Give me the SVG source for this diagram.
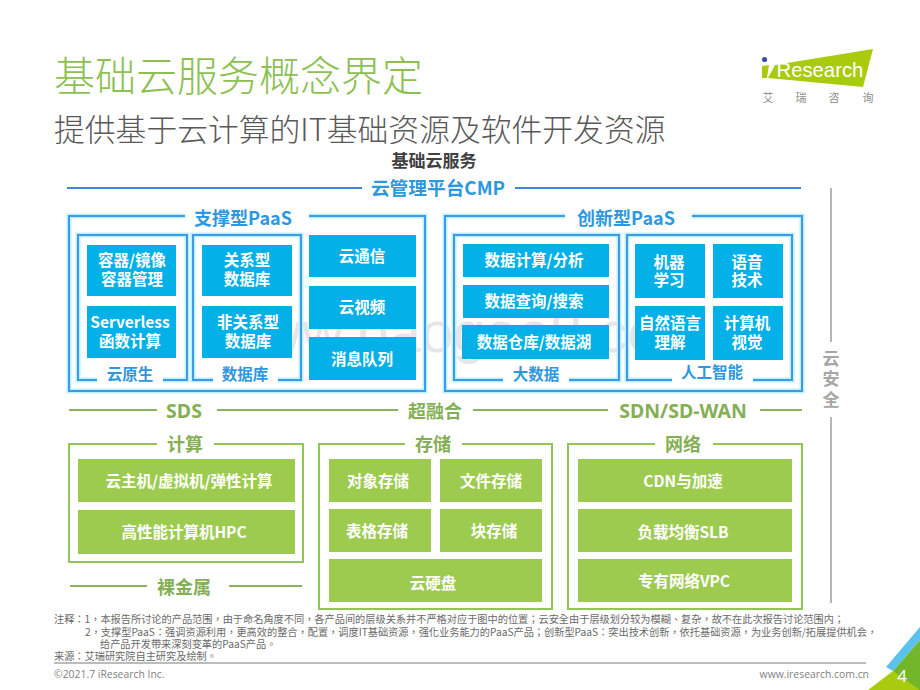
<svg xmlns="http://www.w3.org/2000/svg" width="920" height="690" viewBox="0 0 920 690">
<defs>
<style>
text{font-family:"Noto Sans CJK SC","Noto Sans",sans-serif}
.b{fill:#03B0E8}
.g{fill:#9DCB50}
.w{fill:#fff;font-size:15.5px;font-weight:700;text-anchor:middle}
.fb{fill:none;stroke:#3C9BE8;stroke-width:2}
.glow{fill:none;stroke:#BDF0FF;stroke-width:5}
.fg{fill:none;stroke:#92C558;stroke-width:2}
.lb{font-size:18px;font-weight:700;fill:#2D98E0;text-anchor:middle}
.lb2{font-size:15.5px;font-weight:700;fill:#2D98E0;text-anchor:middle}
.lg{font-size:18px;font-weight:700;fill:#85AF55;text-anchor:middle}
.cl{stroke:#4384D8;stroke-width:2;fill:none}
.gl{stroke:#8DB35F;stroke-width:2;fill:none}
.gy{stroke:#B5B5B5;stroke-width:2;fill:none}
.n{font-size:10.2px;fill:#6A6A6A;font-family:"Noto Sans CJK TC","Noto Sans",sans-serif}
.f{font-size:10.4px;fill:#7F7F7F;font-family:"Open Sans",sans-serif}
</style>
</defs>
<rect width="920" height="690" fill="#fff"/>
<text x="54" y="91" font-size="41" fill="#8CC152" style="font-weight:300">基础云服务概念界定</text>
<text x="54" y="141" font-size="30.8" fill="#595959" style="font-weight:300">提供基于云计算的IT基础资源及软件开发资源</text>
<text x="434" y="167" font-size="17" font-weight="700" fill="#404040" text-anchor="middle">基础云服务</text>
<text x="708" y="352" font-size="58" fill="#E8E4E8" text-anchor="end" style='font-family:"Liberation Sans",sans-serif'>www.baogao8.com</text>
<g id="logo">
<polygon points="775,65 873,49 863,87 768,78" fill="#A9CB0E"/>
<polygon points="762,66 769,65 767,78 762,78" fill="#A9CB0E"/>
<circle cx="764.500" cy="59.500" r="2.600" fill="#3C4C9E"/>
<text x="776.500" y="77" font-size="20.300" fill="#fff" style='font-family:"Liberation Sans",sans-serif'>Research</text>
<g font-size="11" fill="#8C8C8C" text-anchor="middle"><text x="768" y="102">艾</text><text x="801" y="102">瑞</text><text x="834" y="102">咨</text><text x="868" y="102">询</text></g>
</g>
<g id="connectors">
<path class="cl" d="M67 188H362M515 188H801"/>
<path class="gl" d="M69 410H157M217 410H398M473 410H608M760 410H802"/>
<path class="gl" d="M70 586H147M229 586H302"/>
<path class="gy" d="M831 188V342M831 417V603"/>
</g>
<text x="438" y="195" class="lb" style="font-size:18.700px">云管理平台CMP</text>
<g id="security"><g font-size="17" font-weight="700" fill="#A6A6A6" text-anchor="middle"><text x="831" y="365">云</text><text x="831" y="385">安</text><text x="831" y="406">全</text></g></g>
<g id="support-paas">
<path class="glow" d="M185 216H69V391H425V216H309"/><path class="fb" d="M185 216H69V391H425V216H309"/>
<text x="243" y="225" class="lb">支撑型PaaS</text>
</g>
<g id="cloud-native">
<path class="glow" d="M97 380H78V235H187V380H163"/><path class="fb" d="M97 380H78V235H187V380H163"/>
<text x="130" y="380" class="lb2">云原生</text>
<rect class="b" x="87" y="245" width="89" height="51"/><text class="w" x="132" y="266">容器/镜像</text><text class="w" x="132" y="285">容器管理</text>
<rect class="b" x="87" y="306" width="89" height="52"/><text class="w" x="130" y="328">Serverless</text><text class="w" x="130" y="347">函数计算</text>
</g>
<g id="database">
<path class="glow" d="M213 380H193V235H301V380H278"/><path class="fb" d="M213 380H193V235H301V380H278"/>
<text x="245" y="380" class="lb2">数据库</text>
<rect class="b" x="202" y="245" width="90" height="51"/><text class="w" x="247" y="266">关系型</text><text class="w" x="247" y="285">数据库</text>
<rect class="b" x="202" y="306" width="90" height="52"/><text class="w" x="248" y="328">非关系型</text><text class="w" x="248" y="347">数据库</text>
</g>
<g id="comm">
<rect class="b" x="309" y="235" width="107" height="42"/><text class="w" x="362" y="262">云通信</text>
<rect class="b" x="309" y="286" width="107" height="43"/><text class="w" x="362" y="313">云视频</text>
<rect class="b" x="309" y="337" width="107" height="43"/><text class="w" x="362" y="365">消息队列</text>
</g>
<g id="innovation-paas">
<path class="glow" d="M565 216H445V391H802V216H692"/><path class="fb" d="M565 216H445V391H802V216H692"/>
<text x="626" y="225" class="lb">创新型PaaS</text>
</g>
<g id="bigdata">
<path class="glow" d="M503 380H454V235H619V380H569"/><path class="fb" d="M503 380H454V235H619V380H569"/>
<text x="536" y="380" class="lb2">大数据</text>
<rect class="b" x="463" y="244" width="146" height="33"/><text class="w" x="534" y="266">数据计算/分析</text>
<rect class="b" x="463" y="285" width="146" height="33"/><text class="w" x="534" y="307">数据查询/搜索</text>
<rect class="b" x="462" y="325" width="147" height="34"/><text class="w" x="534" y="348">数据仓库/数据湖</text>
</g>
<g id="ai">
<path class="glow" d="M672 380H627V235H792V380H753"/><path class="fb" d="M672 380H627V235H792V380H753"/>
<text x="712" y="378" class="lb2">人工智能</text>
<rect class="b" x="635" y="244" width="70" height="54"/><text class="w" x="669" y="268">机器</text><text class="w" x="669" y="286">学习</text>
<rect class="b" x="713" y="244" width="70" height="54"/><text class="w" x="747" y="268">语音</text><text class="w" x="747" y="286">技术</text>
<rect class="b" x="635" y="306" width="70" height="54"/><text class="w" x="670" y="329">自然语言</text><text class="w" x="670" y="348">理解</text>
<rect class="b" x="713" y="306" width="70" height="54"/><text class="w" x="747" y="329">计算机</text><text class="w" x="747" y="348">视觉</text>
</g>
<g id="layers">
<text x="184" y="418" class="lg" style='font-family:"Noto Sans",sans-serif;font-size:19.500px'>SDS</text>
<text x="435" y="418" class="lg">超融合</text>
<text x="683" y="418" class="lg" style='font-family:"Noto Sans",sans-serif;font-size:19.500px'>SDN/SD-WAN</text>
<text x="184" y="594" class="lg">裸金属</text>
</g>
<g id="compute">
<path class="fg" d="M157 444H69V562H303V444H214"/>
<text x="185" y="451" class="lg">计算</text>
<rect class="g" x="78" y="459" width="217" height="43"/><text class="w" x="189" y="487">云主机/虚拟机/弹性计算</text>
<rect class="g" x="78" y="510" width="217" height="44"/><text class="w" x="184" y="538">高性能计算机HPC</text>
</g>
<g id="storage">
<path class="fg" d="M405 444H319V609H552V444H462"/>
<text x="433" y="451" class="lg">存储</text>
<rect class="g" x="329" y="459" width="102" height="43"/><text class="w" x="378" y="487">对象存储</text>
<rect class="g" x="440" y="459" width="102" height="43"/><text class="w" x="491" y="487">文件存储</text>
<rect class="g" x="329" y="509" width="102" height="43"/><text class="w" x="377" y="537">表格存储</text>
<rect class="g" x="440" y="509" width="102" height="43"/><text class="w" x="494" y="537">块存储</text>
<rect class="g" x="329" y="559" width="213" height="43"/><text class="w" x="433" y="589">云硬盘</text>
</g>
<g id="network">
<path class="fg" d="M655 444H568V609H802V444H713"/>
<text x="683" y="451" class="lg">网络</text>
<rect class="g" x="578" y="459" width="214" height="43"/><text class="w" x="683" y="487">CDN与加速</text>
<rect class="g" x="578" y="509" width="214" height="43"/><text class="w" x="683" y="538">负载均衡SLB</text>
<rect class="g" x="578" y="559" width="214" height="43"/><text class="w" x="684" y="587">专有网络VPC</text>
</g>
<g id="notes">
<text x="54" y="623" class="n">注释：1，本报告所讨论的产品范围，由于命名角度不同，各产品间的层级关系并不严格对应于图中的位置；云安全由于层级划分较为模糊、复杂，故不在此次报告讨论范围内；</text>
<text x="85" y="636" class="n">2，支撑型PaaS：强调资源利用，更高效的整合，配置，调度IT基础资源，强化业务能力的PaaS产品；创新型PaaS：突出技术创新，依托基础资源，为业务创新/拓展提供机会，</text>
<text x="100" y="648" class="n">给产品开发带来深刻变革的PaaS产品。</text>
<text x="54" y="660" class="n">来源：艾瑞研究院自主研究及绘制。</text>
</g>
<path d="M54 663H866" stroke="#A6A6A6" stroke-width="1.500"/>
<text x="54" y="678" class="f">©2021.7 iResearch Inc.</text>
<text x="869" y="678" class="f" text-anchor="end">www.iresearch.com.cn</text>
<g id="corner">
<polygon points="920,627 886,667 893,671 920,640" fill="#5BC2EE"/>
<polygon points="920,640 893,671 912,690 920,690" fill="#72B62A"/>
<polygon points="893,671 868,690 920,690" fill="#A9CB0E"/>
<text x="902" y="682" font-size="17" fill="#fff" text-anchor="middle" style='font-family:"Noto Sans",sans-serif'>4</text>
</g>
</svg>
